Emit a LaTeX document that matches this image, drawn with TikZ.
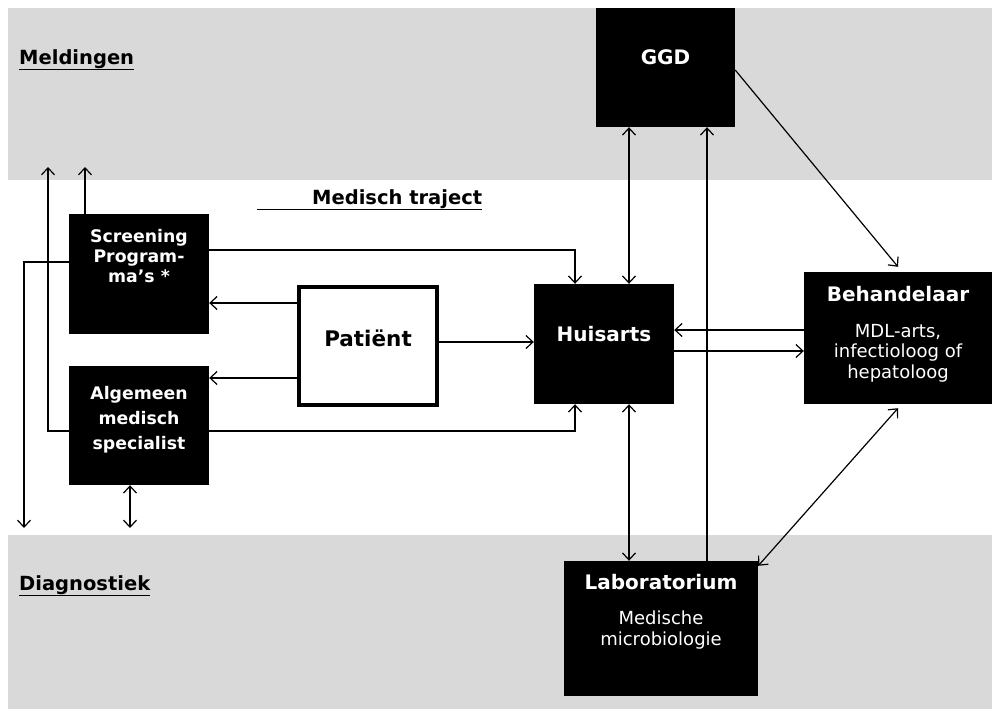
\documentclass[tikz,border=0pt]{standalone}
\usepackage{fontspec}
\setmainfont{DejaVu Sans}
\usetikzlibrary{arrows.meta, positioning}
\definecolor{bandgrey}{RGB}{217,217,217}

\begin{document}
\begin{tikzpicture}[
	x=1pt, y=-1pt,
	blackbox/.style={rectangle, fill=black, inner sep=0pt},
	patbox/.style={rectangle, draw=black, line width=4pt, fill=white, inner sep=0pt},
	boxtext/.style={text=white, align=center, inner sep=0pt, font=\bfseries\fontsize{20}{24}\selectfont},
	smalltext/.style={text=white, align=center, inner sep=0pt, font=\bfseries\fontsize{17.3}{20}\selectfont},
	subtext/.style={text=white, align=center, inner sep=0pt, font=\fontsize{18}{20.5}\selectfont},
	zonetext/.style={anchor=north west, inner sep=0pt, font=\bfseries\fontsize{19.5}{22}\selectfont},
	oneway/.style={-{Straight Barb[length=7pt,width=13pt]}, line width=1.2pt},
	twoway/.style={{Straight Barb[length=7pt,width=13pt]}-{Straight Barb[length=7pt,width=13pt]}, line width=1.2pt}
	]
	
	\useasboundingbox (0,0) rectangle (992,709);
	
	% Zones
	\fill[bandgrey] (8,8) rectangle (992,180);
	\fill[bandgrey] (8,535) rectangle (992,709);
	\node[zonetext] (meld) at (19,49) {\underline{Meldingen}};
	\node[zonetext] (diag) at (19,575) {\underline{Diagnostiek}};
	\node[zonetext] (traj) at (257,189) {\underline{\hspace*{55pt}Medisch traject}};
	
	% Boxes
	\node[blackbox, minimum width=139pt, minimum height=119pt] (ggd) at (665.5,67.5) {};
	\node[blackbox, minimum width=140pt, minimum height=120pt] (scr) at (139,274) {};
	\node[blackbox, minimum width=140pt, minimum height=119pt] (alg) at (139,425.5) {};
	\node[patbox, minimum width=138pt, minimum height=118pt] (pat) at (368,346) {};
	\node[blackbox, minimum width=140pt, minimum height=120pt] (hui) at (604,344) {};
	\node[blackbox, minimum width=188pt, minimum height=132pt] (beh) at (898,338) {};
	\node[blackbox, minimum width=194pt, minimum height=135pt] (lab) at (661,628.5) {};
	
	% Box texts
	\node[boxtext, below=42pt of ggd.north] (ggdT) {GGD};
	\node[smalltext, below=15pt of scr.north] (scrT) {Screening\\Program-\\ma's *};
	\node[smalltext, below=20pt of alg.north, font=\bfseries\fontsize{17.3}{25}\selectfont] (algT) {Algemeen\\medisch\\specialist};
	\node[boxtext, below=45pt of pat.north, text=black, font=\bfseries\fontsize{21.5}{25}\selectfont] (patT) {Patiënt};
	\node[boxtext, below=42pt of hui.north] (huiT) {Huisarts};
	\node[boxtext, below=14pt of beh.north] (behT) {Behandelaar};
	\node[subtext, below=52pt of beh.north] (behS) {MDL-arts,\\infectioloog of\\hepatoloog};
	\node[boxtext, below=13pt of lab.north] (labT) {Laboratorium};
	\node[subtext, below=50pt of lab.north] (labS) {Medische\\microbiologie};
	
	% Free ends in the zones
	\coordinate (upA) at (48,167);
	\coordinate (upS) at (85,167);
	\coordinate (downS) at (24,528);
	\coordinate (downA) at (130,528);
	
	% Left side
	\draw[oneway] ([yshift=-5.5pt]alg.west) -| (upA);
	\draw[oneway] (scr.north -| upS) -- (upS);
	\draw[oneway] ([yshift=12pt]scr.west) -| (downS);
	\draw[twoway] (alg.south -| downA) -- (downA);
	\draw[oneway] ([yshift=24pt]scr.east) -| ([xshift=-29pt]hui.north);
	\draw[oneway] ([yshift=-5.5pt]alg.east) -| ([xshift=-29pt]hui.south);
	
	% Patient
	\draw[oneway] ([yshift=43pt]pat.west) -- ([yshift=43pt]pat.west -| scr.east);
	\draw[oneway] ([yshift=-32pt]pat.west) -- ([yshift=-32pt]pat.west -| alg.east);
	\draw[oneway] ([yshift=4pt]pat.east) -- ([yshift=4pt]pat.east -| hui.west);
	
	% Huisarts, GGD, behandelaar, laboratorium
	\draw[twoway] ([xshift=25pt]hui.north) -- ([xshift=25pt]hui.north |- ggd.south);
	\draw[twoway] ([xshift=25pt]hui.south) -- ([xshift=25pt]hui.south |- lab.north);
	\draw[oneway] ([xshift=46pt]lab.north) -- ([xshift=46pt]lab.north |- ggd.south);
	\draw[oneway] ([yshift=-2.5pt]ggd.east) -- ([yshift=5pt]beh.north);
	\draw[oneway] ([yshift=8pt]beh.west) -- ([yshift=8pt]beh.west -| hui.east);
	\draw[oneway] ([yshift=-7pt]hui.east) -- ([yshift=-7pt]hui.east -| beh.west);
	\draw[twoway] ([yshift=-5pt]lab.north east) -- ([yshift=-4pt]beh.south);
	
\end{tikzpicture}
\end{document}
